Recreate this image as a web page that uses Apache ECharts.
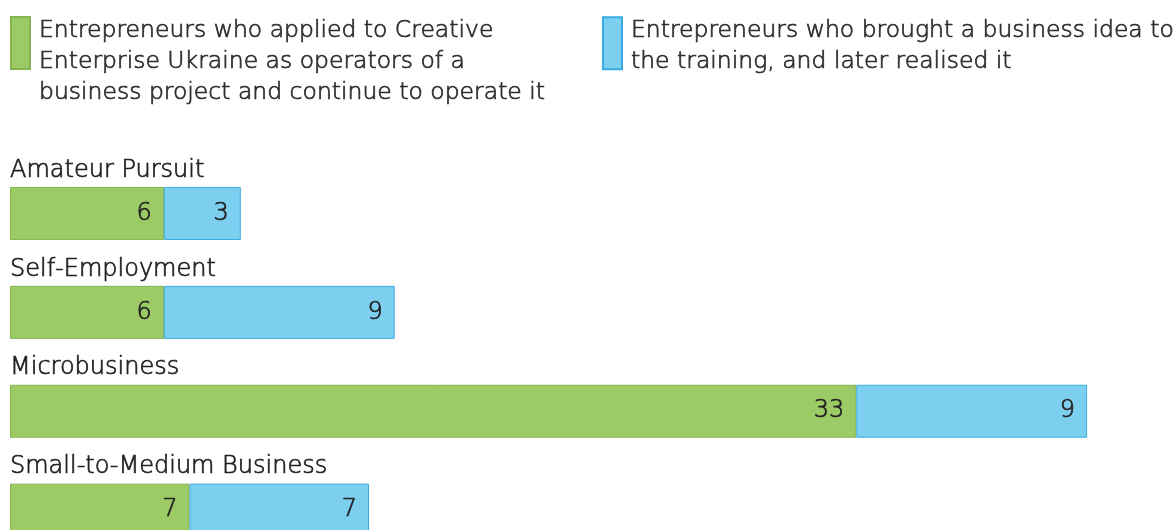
<!DOCTYPE html>
<html>
<head>
<meta charset="utf-8">
<script src="https://cdn.jsdelivr.net/npm/echarts@6/dist/echarts.min.js"></script>
<style>
  html, body { margin: 0; padding: 0; background: #fff; }
  #chart { width: 1176px; height: 530px; }
</style>
</head>
<body>
<div id="chart"></div>
<script>
// Business categories, top to bottom
const categories = ['Amateur Pursuit', 'Self-Employment', 'Microbusiness', 'Small-to-Medium Business'];

// Counts per category for each group
const operatorsValues = [6, 6, 33, 7];
const ideaValues = [3, 9, 9, 7];

// Legend text, one entry per line
const operatorsLegendLines = [
  'Entrepreneurs who applied to Creative',
  'Enterprise Ukraine as operators of a',
  'business project and continue to operate it'
];
const ideaLegendLines = [
  'Entrepreneurs who brought a business idea to',
  'the training, and later realised it'
];

const operatorsName = operatorsLegendLines.join(' ');
const ideaName = ideaLegendLines.join(' ');

const FONT = '"DejaVu Sans", sans-serif';
const WEIGHT = 200;
const TEXT = '#222';

// light face, thickened slightly with a hairline outline in the same colour
const textLook = (color) => ({
  fontFamily: FONT,
  fontWeight: WEIGHT,
  color: color,
  textBorderColor: color,
  textBorderWidth: 0.7
});

const chart = echarts.init(document.getElementById('chart'), null, { renderer: 'canvas' });

const valueLabel = Object.assign({
  show: true,
  position: 'insideRight',
  distance: 12,
  fontSize: 24
}, textLook(TEXT));

// legend text: an optional spacer row on top, then each line indented a little from the swatch
const legendText = (lines, spacer) =>
  '{' + spacer + '| }\n' + lines.map(l => '{gap|}' + l).join('\n');

const legendBase = {
  orient: 'vertical',
  padding: 0,
  itemWidth: 19,
  itemHeight: 52,
  itemGap: 0,
  icon: 'rect',
  selectedMode: false,
  textStyle: Object.assign({
    fontSize: 23.5,
    lineHeight: 31,
    rich: {
      gap: { width: 4 },
      small: { lineHeight: 6, fontSize: 6 },
      tall: { lineHeight: 37, fontSize: 6 }
    }
  }, textLook('#2e2e2e'))
};

chart.setOption({
  animation: false,
  backgroundColor: '#fff',
  legend: [
    Object.assign({}, legendBase, {
      left: 10,
      top: -22,
      data: [operatorsName],
      formatter: () => legendText(operatorsLegendLines, 'tall')
    }),
    Object.assign({}, legendBase, {
      left: 602,
      top: 9,
      data: [ideaName],
      formatter: () => legendText(ideaLegendLines, 'small')
    })
  ],
  grid: {
    left: 10,
    right: 12,
    top: 164,
    height: 395.6,
    outerBoundsMode: 'none',
    containLabel: false
  },
  xAxis: {
    type: 'value',
    min: 0,
    max: 45,
    show: false
  },
  yAxis: {
    type: 'category',
    inverse: true,
    data: categories,
    axisLine: { show: false },
    axisTick: { show: false },
    splitLine: { show: false },
    axisLabel: Object.assign({
      inside: true,
      interval: 0,
      margin: 0,
      fontSize: 24,
      verticalAlign: 'bottom',
      lineHeight: 30,
      padding: [0, 0, 28, 0]
    }, textLook(TEXT))
  },
  series: [
    {
      name: operatorsName,
      type: 'bar',
      stack: 'total',
      barWidth: 53,
      data: operatorsValues,
      itemStyle: { color: '#9ccb66', borderColor: '#82b452', borderWidth: 1 },
      label: valueLabel
    },
    {
      name: ideaName,
      type: 'bar',
      stack: 'total',
      barWidth: 53,
      data: ideaValues,
      itemStyle: { color: '#7dcff0', borderColor: '#3aabe0', borderWidth: 1 },
      label: valueLabel
    }
  ]
});
</script>
</body>
</html>
